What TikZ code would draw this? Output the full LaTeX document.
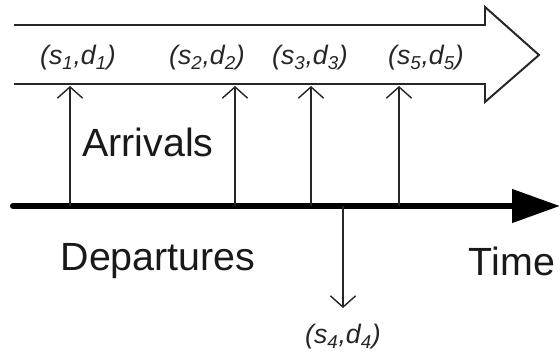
\documentclass[tikz,border=0pt]{standalone}
\usepackage{fontspec}
\setmainfont{Liberation Sans}
\usetikzlibrary{arrows.meta}

\begin{document}
\begin{tikzpicture}[x=0.025cm,y=-0.025cm,
pair/.style={font=\itshape\fontsize{19}{19}\selectfont,text=black!85,inner sep=0pt},
word/.style={font=\fontsize{28}{28}\selectfont,text=black!90,inner sep=0pt},
event/.style={line width=1pt,color=black!85,-{Straight Barb[length=8pt,width=18pt,line width=1pt]}}
]
\useasboundingbox (0,0) rectangle (560,356);
% hollow time band
\draw[line width=1.4pt,color=black!85,line join=miter]
(14,25) -- (485,25) -- (485,7) -- (539,55) -- (485,102) -- (485,84) -- (14,84);
\node[pair] (p1) at (78,58) {(s\textsubscript{1},d\textsubscript{1})};
\node[pair] (p2) at (207,58) {(s\textsubscript{2},d\textsubscript{2})};
\node[pair] (p3) at (310,58) {(s\textsubscript{3},d\textsubscript{3})};
\node[pair] (p5) at (426,58) {(s\textsubscript{5},d\textsubscript{5})};
% time axis
\coordinate (start) at (13,206);
\coordinate (end) at (560,206);
\draw[line width=4.3pt,line cap=round,-{Triangle[length=34pt,width=23pt]}] (start) -- (end);
% arrivals
\foreach \n/\x in {1/70,2/235,3/311,5/399}{
\coordinate (a\n) at (\x,206);
\coordinate (b\n) at (\x,86);
\draw[event] (a\n) -- (b\n);
}
% departure
\coordinate (a4) at (343,206);
\coordinate (b4) at (343,308);
\draw[event] (a4) -- (b4);
\node[pair] (p4) at (343,337) {(s\textsubscript{4},d\textsubscript{4})};
\node[word] (arr) at (148,142) {Arrivals};
\node[word] (dep) at (158,261) {Departures};
\node[word] (time) at (512,261) {Time};
\end{tikzpicture}
\end{document}
